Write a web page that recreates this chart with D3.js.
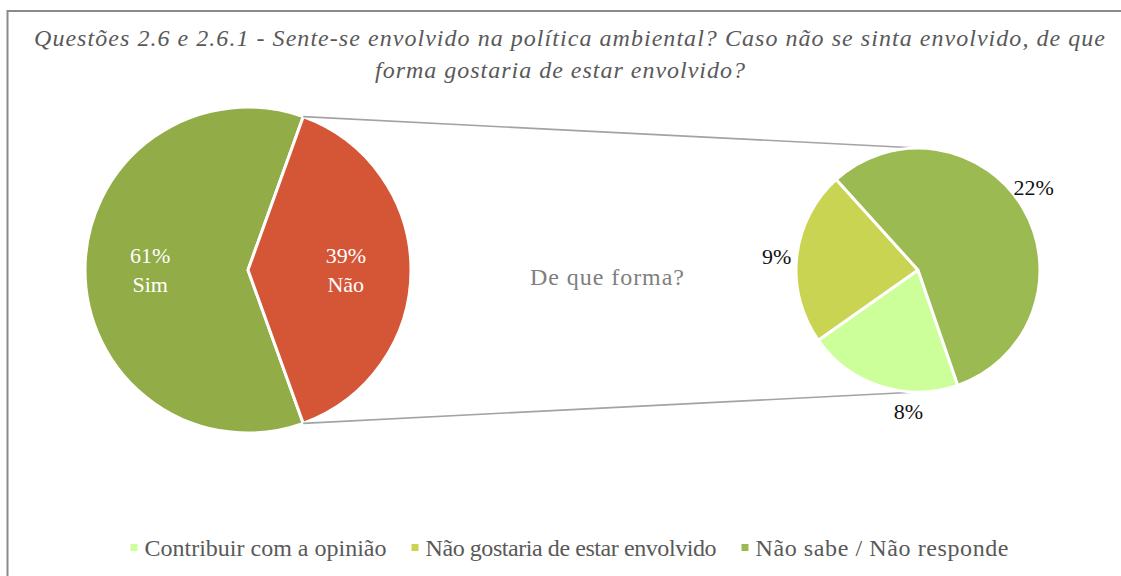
<!DOCTYPE html>
<html>
<head>
<meta charset="utf-8">
<script src="https://cdn.jsdelivr.net/npm/d3@7"></script>
<style>
  html, body { margin: 0; padding: 0; background: #fff; }
  svg { display: block; }
  text { font-family: "Liberation Serif", "Times New Roman", serif; }
</style>
</head>
<body>
<svg id="chart" width="1121" height="576"></svg>
<script>
// Main pie: do you feel involved?
const mainCategories = ["Sim", "Não"];
const mainValues = [61, 39];

// Secondary pie: how would you like to be involved (share of all answers)
const subCategories = ["Contribuir com a opinião", "Não gostaria de estar envolvido", "Não sabe / Não responde"];
const subValues = [8, 9, 22];

const titleLines = [
  "Questões 2.6 e 2.6.1 - Sente-se envolvido na política ambiental? Caso não se sinta envolvido, de que",
  "forma gostaria de estar envolvido?"
];
const subCaption = "De que forma?";

const mainColors = ["#92AC48", "#D55637"];
const subColors = ["#CCFF99", "#C8D452", "#9BBA52"];

const svg = d3.select("#chart");
const deg = Math.PI / 180;
const pct = v => d3.format(".0f")(v) + "%";

// chart frame
svg.append("rect")
  .attr("x", 7.5).attr("y", 11)
  .attr("width", 1200).attr("height", 700)
  .attr("fill", "#fff")
  .attr("stroke", "#8a8a8a")
  .attr("stroke-width", 2);

// title, each line stretched to its wrapped width
const titleLayout = [
  { cx: 569.5, y: 46, w: 1071 },
  { cx: 560, y: 78, w: 370 }
];
svg.append("g").selectAll("text")
  .data(titleLines)
  .join("text")
  .attr("x", (d, i) => titleLayout[i].cx)
  .attr("y", (d, i) => titleLayout[i].y)
  .attr("text-anchor", "middle")
  .attr("font-size", 24)
  .attr("font-style", "italic")
  .attr("textLength", (d, i) => titleLayout[i].w)
  .attr("lengthAdjust", "spacing")
  .attr("fill", "#595959")
  .text(d => d);

// ---- main pie ----
const main = { cx: 248, cy: 270, r: 163 };
const mainTotal = d3.sum(mainValues);
// the split slice ("Não") is centred on the right-hand side
const splitHalf = Math.PI * mainValues[1] / mainTotal;
const mainPie = d3.pie().sort(null)
  .startAngle(Math.PI / 2 + splitHalf)
  .endAngle(Math.PI / 2 + splitHalf + 2 * Math.PI);
const mainArcs = mainPie(mainValues);
const mainArc = d3.arc().innerRadius(0).outerRadius(main.r);
const mainLabelArc = d3.arc().innerRadius(main.r * 0.6).outerRadius(main.r * 0.6);

const gMain = svg.append("g").attr("transform", `translate(${main.cx},${main.cy})`);
gMain.selectAll("path")
  .data(mainArcs)
  .join("path")
  .attr("d", mainArc)
  .attr("fill", (d, i) => mainColors[i])
  .attr("stroke", "#fff")
  .attr("stroke-width", 3)
  .attr("stroke-linejoin", "round");

const mainLabels = gMain.selectAll("text.lbl")
  .data(mainArcs)
  .join("text")
  .attr("class", "lbl")
  .attr("transform", d => `translate(${mainLabelArc.centroid(d)})`)
  .attr("text-anchor", "middle")
  .attr("font-size", 22)
  .attr("fill", "#fff");
mainLabels.append("tspan").attr("x", 0).attr("dy", "-0.32em").text(d => pct(d.value / mainTotal * 100));
mainLabels.append("tspan").attr("x", 0).attr("dy", "1.32em").text((d, i) => mainCategories[i]);

// ---- secondary pie ----
const sub = { cx: 918, cy: 270, r: 122 };
const subStart = 161 * deg;
const subPie = d3.pie().sort(null)
  .startAngle(subStart)
  .endAngle(subStart + 2 * Math.PI);
const subArcs = subPie(subValues);
const subArc = d3.arc().innerRadius(0).outerRadius(sub.r);

// connector lines from the edges of the split slice to the secondary pie
const split = mainArcs[1];
const edgePoint = a => [main.cx + main.r * Math.sin(a), main.cy - main.r * Math.cos(a)];
const connectors = [
  [edgePoint(split.startAngle), [sub.cx, sub.cy - sub.r]],
  [edgePoint(split.endAngle), [sub.cx, sub.cy + sub.r]]
];
svg.append("g").selectAll("line")
  .data(connectors)
  .join("line")
  .attr("x1", d => d[0][0]).attr("y1", d => d[0][1])
  .attr("x2", d => d[1][0]).attr("y2", d => d[1][1])
  .attr("stroke", "#a3a3a3")
  .attr("stroke-width", 1.6);

const gSub = svg.append("g").attr("transform", `translate(${sub.cx},${sub.cy})`);
gSub.selectAll("path")
  .data(subArcs)
  .join("path")
  .attr("d", subArc)
  .attr("fill", (d, i) => subColors[i])
  .attr("stroke", "#fff")
  .attr("stroke-width", 3)
  .attr("stroke-linejoin", "round");

// outside labels, nudged along the rim for best fit
const subLabelRadius = 142;
const subLabelNudge = [-14, -1, -5];
gSub.selectAll("text")
  .data(subArcs)
  .join("text")
  .each(function (d, i) {
    const a = (d.startAngle + d.endAngle) / 2 + subLabelNudge[i] * deg;
    d3.select(this)
      .attr("x", subLabelRadius * Math.sin(a))
      .attr("y", -subLabelRadius * Math.cos(a));
  })
  .attr("dy", "0.35em")
  .attr("text-anchor", "middle")
  .attr("font-size", 22)
  .attr("fill", "#111")
  .text(d => pct(d.value));

// caption between the pies
svg.append("text")
  .attr("x", 607).attr("y", 285)
  .attr("text-anchor", "middle")
  .attr("font-size", 24)
  .attr("textLength", 154)
  .attr("lengthAdjust", "spacing")
  .attr("fill", "#7f7f7f")
  .text(subCaption);

// ---- legend ----
const legendTextWidths = [242, 291, 253];
const legend = svg.append("g").attr("transform", "translate(0,548)");
const items = legend.selectAll("g")
  .data(subCategories)
  .join("g");
items.append("rect")
  .attr("y", -4).attr("width", 7).attr("height", 7)
  .attr("fill", (d, i) => subColors[i]);
items.append("text")
  .attr("x", 14).attr("y", 0)
  .attr("dy", "0.35em")
  .attr("font-size", 24)
  .attr("textLength", (d, i) => legendTextWidths[i])
  .attr("lengthAdjust", "spacing")
  .attr("fill", "#595959")
  .text(d => d);

// place entries side by side, centred as a block
const gap = 25;
const widths = legendTextWidths.map(w => w + 14);
const totalW = d3.sum(widths) + gap * (widths.length - 1);
let x = 569.5 - totalW / 2;
items.attr("transform", (d, i) => {
  const t = `translate(${x},0)`;
  x += widths[i] + gap;
  return t;
});
</script>
</body>
</html>
